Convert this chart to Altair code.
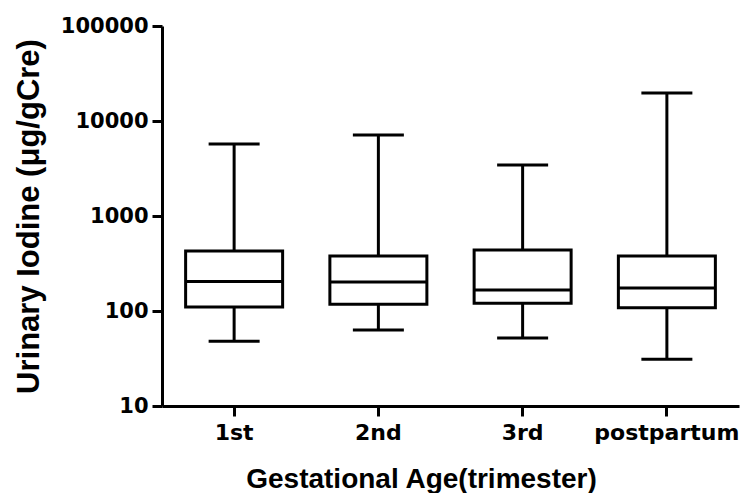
import altair as alt
import pandas as pd

categories = ["1st", "2nd", "3rd", "postpartum"]
mins = [48, 63, 52, 31]
q1s = [110, 118, 121, 108]
medians = [205, 202, 166, 175]
q3s = [428, 379, 438, 379]
maxs = [5730, 7120, 3440, 19700]

df = pd.DataFrame({
    "group": categories,
    "lo": mins,
    "q1": q1s,
    "med": medians,
    "q3": q3s,
    "hi": maxs,
})

TICK_FONT = "DejaVu Sans"
TITLE_FONT = "Liberation Sans"

x_enc = alt.X(
    "group:N",
    sort=categories,
    scale=alt.Scale(paddingInner=0, paddingOuter=0),
    axis=alt.Axis(
        title="Gestational Age(trimester)",
        labelAngle=0,
        labelFont=TICK_FONT,
        labelFontSize=22,
        labelFontWeight="bold",
        labelColor="black",
        labelPadding=6,
        tickSize=10,
        tickWidth=3,
        tickColor="black",
        domainWidth=3,
        domainColor="black",
        titleFont=TITLE_FONT,
        titleFontSize=28,
        titleFontWeight="bold",
        titleColor="black",
        titleX=259,
        titleY=81,
        titleAlign="center",
        titleBaseline="alphabetic",
        grid=False,
    ),
)

yscale = alt.Scale(type="log", domain=[10, 100000])
yaxis = alt.Axis(
    title="Urinary Iodine (μg/gCre)",
    values=[10, 100, 1000, 10000, 100000],
    format="d",
    labelFont=TICK_FONT,
    labelFontSize=21,
    labelFontWeight="bold",
    labelColor="black",
    labelPadding=4,
    tickSize=10,
    tickWidth=3,
    tickColor="black",
    domainWidth=3,
    domainColor="black",
    titleFont=TITLE_FONT,
    titleFontSize=31,
    titleFontWeight="bold",
    titleColor="black",
    titleX=-124,
    titleY=190,
    titleAngle=-90,
    titleAlign="center",
    titleBaseline="alphabetic",
    grid=False,
)

base = alt.Chart(df)

whisker = base.mark_rule(color="black", strokeWidth=3).encode(
    x=x_enc,
    y=alt.Y("lo:Q", scale=yscale, axis=yaxis),
    y2="hi:Q",
)

box = base.mark_bar(size=97, fill="white", stroke="black", strokeWidth=3).encode(
    x=x_enc,
    y=alt.Y("q1:Q", scale=yscale),
    y2="q3:Q",
)

median = base.mark_tick(size=97, thickness=3, color="black", opacity=1).encode(
    x=x_enc,
    y=alt.Y("med:Q", scale=yscale),
)

cap_lo = base.mark_tick(size=51, thickness=3, color="black", opacity=1).encode(
    x=x_enc,
    y=alt.Y("lo:Q", scale=yscale),
)

cap_hi = base.mark_tick(size=51, thickness=3, color="black", opacity=1).encode(
    x=x_enc,
    y=alt.Y("hi:Q", scale=yscale),
)

chart = (
    alt.layer(whisker, box, median, cap_lo, cap_hi)
    .properties(
        width=577,
        height=380,
        autosize=alt.AutoSizeParams(type="none"),
        padding={"left": 154, "top": 18, "right": 5, "bottom": 87},
        background="white",
    )
    .configure_view(stroke=None)
)

chart.save("out.html", embed_options={"renderer": "svg", "actions": False})
